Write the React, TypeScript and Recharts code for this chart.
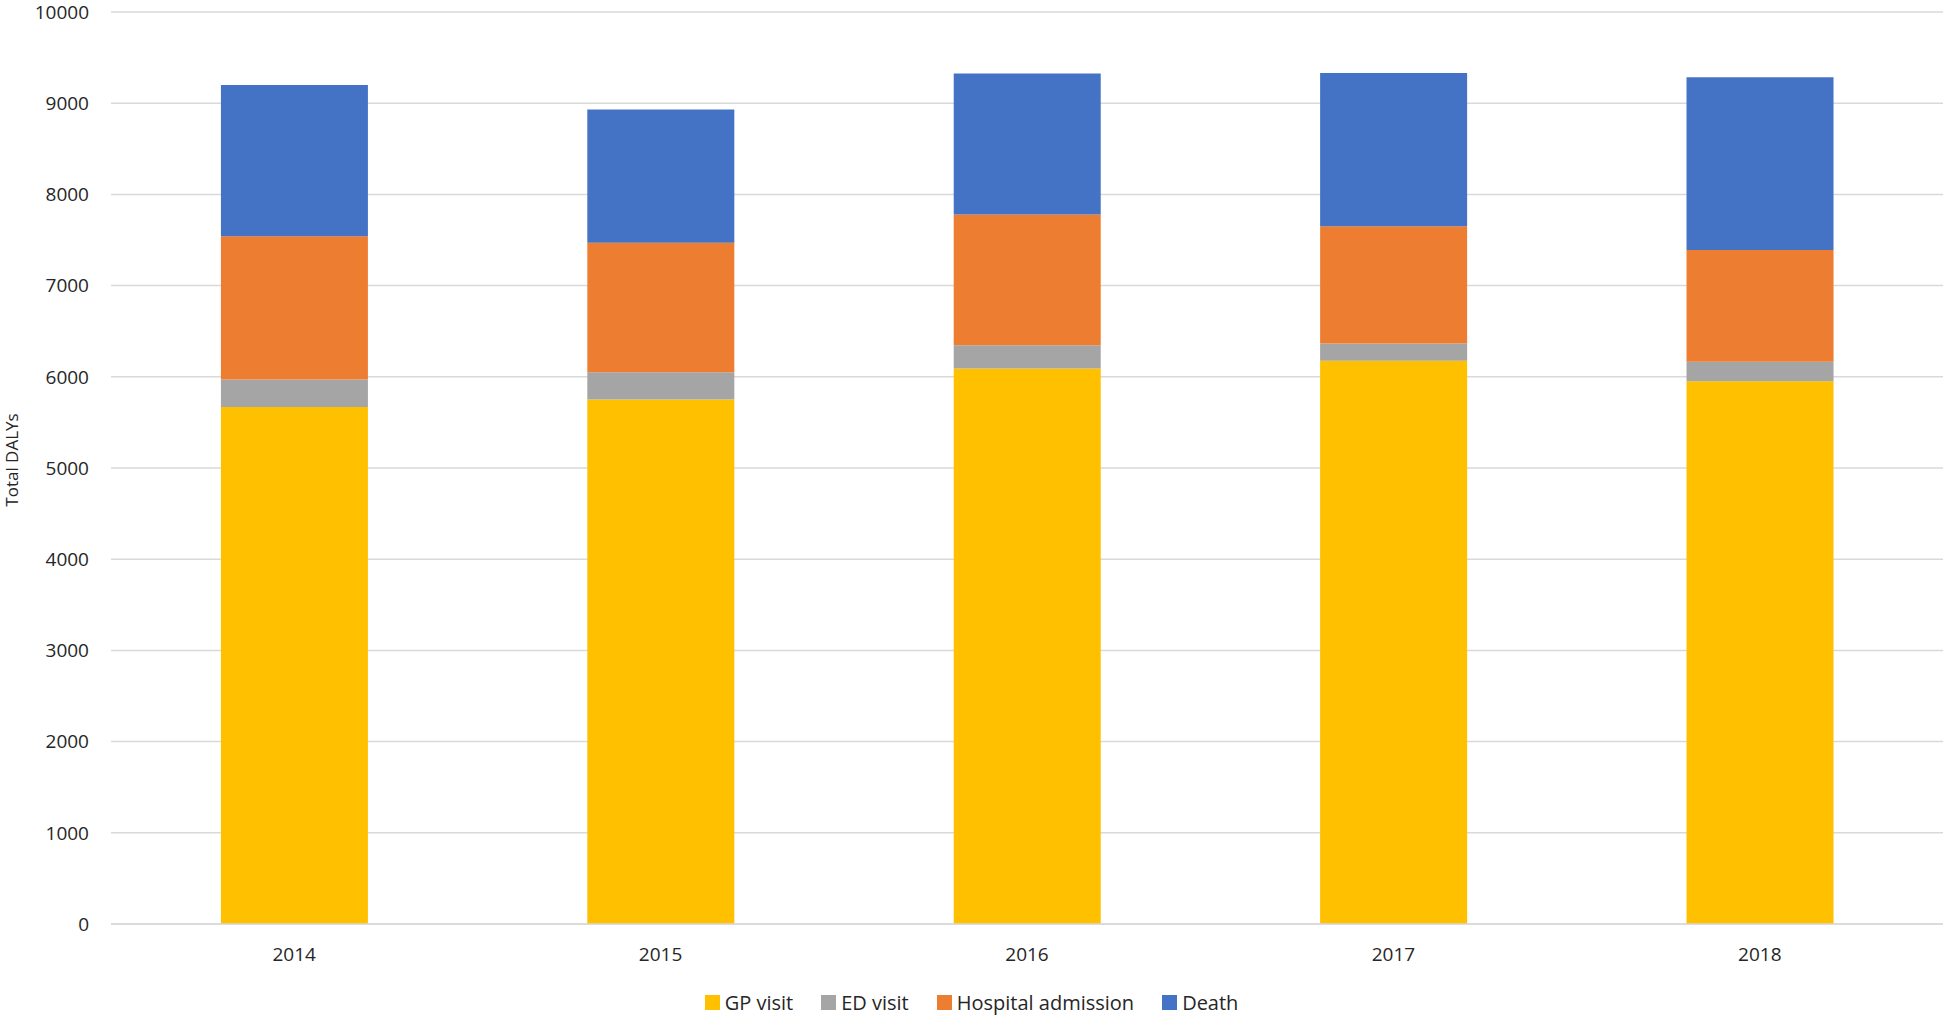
import React from "react";
import {
  BarChart,
  Bar,
  CartesianGrid,
  XAxis,
  YAxis,
  Legend,
} from "recharts";

const years = ["2014", "2015", "2016", "2017", "2018"];
const gpVisit = [5670, 5750, 6090, 6175, 5950];
const edVisit = [300, 300, 255, 190, 215];
const hospitalAdmission = [1570, 1420, 1435, 1285, 1225];
const death = [1660, 1460, 1545, 1680, 1895];
const yTicks = [0, 1000, 2000, 3000, 4000, 5000, 6000, 7000, 8000, 9000, 10000];

const series = [
  { key: "gp", name: "GP visit", color: "#FFC000" },
  { key: "ed", name: "ED visit", color: "#A5A5A5" },
  { key: "hosp", name: "Hospital admission", color: "#ED7D31" },
  { key: "death", name: "Death", color: "#4472C4" },
];

const data = years.map((year, i) => ({
  year,
  gp: gpVisit[i],
  ed: edVisit[i],
  hosp: hospitalAdmission[i],
  death: death[i],
}));

const textColor = "#262626";

const renderLegend = () => (
  <div
    style={{
      display: "flex",
      justifyContent: "center",
      alignItems: "center",
      gap: 28,
      height: 26,
      fontSize: 20,
      color: textColor,
    }}
  >
    {series.map((s) => (
      <div key={s.key} style={{ display: "flex", alignItems: "center" }}>
        <span
          style={{
            width: 15,
            height: 15,
            background: s.color,
            display: "inline-block",
            marginRight: 5,
          }}
        />
        <span>{s.name}</span>
      </div>
    ))}
  </div>
);

export default function App() {
  return (
    <div
      style={{
        position: "absolute",
        left: 0,
        top: 0,
        fontFamily: "'Open Sans', sans-serif",
        background: "#fff",
      }}
    >
      <BarChart
        width={1944}
        height={1015}
        data={data}
        margin={{ top: 12, right: 1, left: 0, bottom: 0 }}
        barCategoryGap="30%"
      >
        <CartesianGrid vertical={false} stroke="#d9d9d9" strokeWidth={1.5} />
        <XAxis
          dataKey="year"
          height={65}
          tickLine={false}
          tickSize={0}
          tickMargin={24}
          axisLine={{ stroke: "#d9d9d9", strokeWidth: 1.5 }}
          tick={{ fill: textColor, fontSize: 19 }}
        />
        <YAxis
          width={111}
          domain={[0, 10000]}
          ticks={yTicks}
          axisLine={false}
          tickLine={false}
          tickSize={0}
          tickMargin={22}
          tick={{ fill: textColor, fontSize: 19 }}
          label={{
            value: "Total DALYs",
            angle: -90,
            position: "insideLeft",
            offset: 12,
            dy: -8,
            style: { fill: textColor, fontSize: 17, textAnchor: "middle" },
          }}
        />
        <Legend verticalAlign="bottom" height={26} content={renderLegend} />
        {series.map((s) => (
          <Bar
            key={s.key}
            dataKey={s.key}
            name={s.name}
            stackId="a"
            fill={s.color}
            isAnimationActive={false}
          />
        ))}
      </BarChart>
    </div>
  );
}
